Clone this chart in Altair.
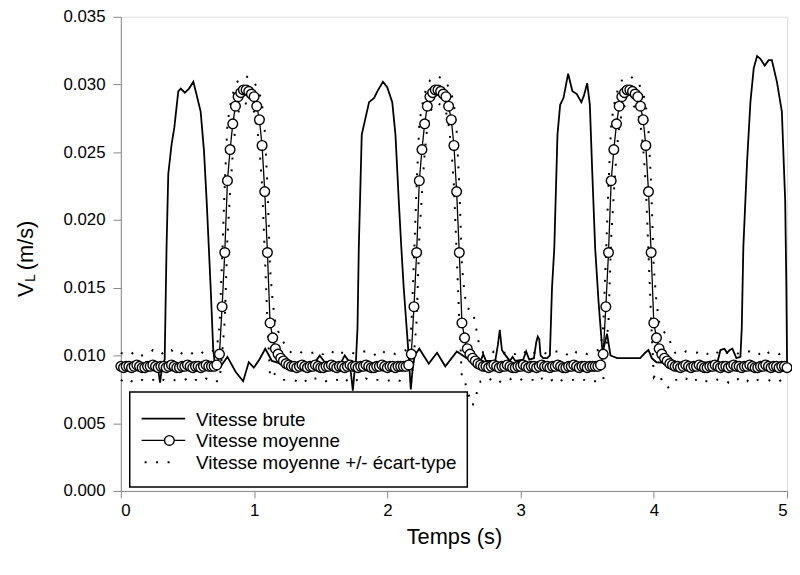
import altair as alt
import pandas as pd

# ---------------- data ----------------
# Vitesse brute (raw signal, key points)
t_brute = [
    0.000, 0.080, 0.160, 0.240, 0.275, 0.287, 0.294, 0.302, 0.315, 0.329,
    0.343, 0.356, 0.381, 0.401, 0.431, 0.450, 0.480, 0.512, 0.544, 0.562,
    0.599, 0.624, 0.644, 0.661, 0.675, 0.693, 0.705, 0.750, 0.800, 0.861,
    0.918, 0.960, 0.998, 1.040, 1.084, 1.134, 1.200, 1.300, 1.450, 1.493,
    1.530, 1.600, 1.655, 1.680, 1.710, 1.728, 1.741, 1.752, 1.765, 1.776,
    1.786, 1.808, 1.863, 1.900, 1.925, 1.967, 1.999, 2.037, 2.061, 2.086,
    2.106, 2.123, 2.160, 2.176, 2.190, 2.205, 2.240, 2.311, 2.373, 2.435,
    2.522, 2.596, 2.650, 2.700, 2.720, 2.740, 2.810, 2.830, 2.844, 2.860,
    2.880, 2.920, 2.940, 2.960, 3.020, 3.042, 3.065, 3.100, 3.118, 3.129,
    3.140, 3.150, 3.170, 3.200, 3.220, 3.236, 3.253, 3.277, 3.297, 3.322,
    3.357, 3.389, 3.422, 3.456, 3.476, 3.500, 3.520, 3.537, 3.560, 3.585,
    3.615, 3.649, 3.675, 3.724, 3.897, 3.935, 3.960, 3.985, 4.020, 4.200,
    4.400, 4.480, 4.500, 4.530, 4.550, 4.570, 4.590, 4.620, 4.650, 4.660,
    4.672, 4.700, 4.725, 4.750, 4.775, 4.800, 4.832, 4.862, 4.886, 4.924,
    4.961, 4.986, 4.995, 5.000,
]
v_brute = [
    0.0093, 0.0094, 0.0093, 0.0094, 0.0093, 0.0085, 0.0080, 0.0086, 0.0094, 0.0097,
    0.0180, 0.0234, 0.0256, 0.0268, 0.0295, 0.0297, 0.0294, 0.0297, 0.0302, 0.0295,
    0.0280, 0.0251, 0.0214, 0.0178, 0.0148, 0.0105, 0.0094, 0.0092, 0.0099, 0.0088,
    0.0081, 0.0095, 0.0091, 0.0097, 0.0105, 0.0096, 0.0094, 0.0093, 0.0094, 0.0100,
    0.0095, 0.0094, 0.0095, 0.0100, 0.0096, 0.0086, 0.0074, 0.0086, 0.0097, 0.0120,
    0.0180, 0.0263, 0.0287, 0.0290, 0.0295, 0.0302, 0.0298, 0.0287, 0.0263, 0.0214,
    0.0178, 0.0150, 0.0100, 0.0075, 0.0090, 0.0100, 0.0105, 0.0094, 0.0102, 0.0092,
    0.0103, 0.0098, 0.0095, 0.0096, 0.0101, 0.0096, 0.0096, 0.0108, 0.0119, 0.0104,
    0.0101, 0.0096, 0.0099, 0.0096, 0.0097, 0.0103, 0.0097, 0.0098, 0.0110, 0.0114,
    0.0112, 0.0100, 0.0098, 0.0098, 0.0100, 0.0150, 0.0179, 0.0263, 0.0285, 0.0290,
    0.0308, 0.0295, 0.0293, 0.0287, 0.0292, 0.0301, 0.0285, 0.0238, 0.0179, 0.0140,
    0.0102, 0.0116, 0.0100, 0.0098, 0.0098, 0.0102, 0.0104, 0.0098, 0.0095, 0.0094,
    0.0095, 0.0096, 0.0104, 0.0105, 0.0102, 0.0104, 0.0105, 0.0098, 0.0099, 0.0120,
    0.0180, 0.0243, 0.0287, 0.0312, 0.0321, 0.0319, 0.0314, 0.0318, 0.0318, 0.0302,
    0.0280, 0.0214, 0.0150, 0.0095,
]

# Vitesse moyenne (phase average), one value every 0.02 s from 0 to 5 s
pas = 0.02
moyenne = [
    # 0.00 - 0.70 s
    0.0092, 0.0091, 0.0092, 0.0092, 0.0091, 0.0092, 0.0093, 0.0092, 0.0091, 0.0091,
    0.0092, 0.0092, 0.0093, 0.0092, 0.0091, 0.0092, 0.0092, 0.0091, 0.0092, 0.0093,
    0.0092, 0.0091, 0.0091, 0.0092, 0.0092, 0.0093, 0.0092, 0.0091, 0.0092, 0.0092,
    0.0091, 0.0092, 0.0093, 0.0092, 0.0092, 0.0092,
    # pulse 1 (0.72 - 1.26 s)
    0.0093, 0.0101, 0.0136, 0.0176, 0.0229, 0.0252, 0.0271, 0.0284, 0.0291, 0.0294,
    0.0296, 0.0296, 0.0295, 0.0293, 0.0291, 0.0284, 0.0274, 0.0255, 0.0221, 0.0176,
    0.0124, 0.0113, 0.0105, 0.0101, 0.0098, 0.0096, 0.0094, 0.0093,
    # 1.28 - 2.14 s
    0.0092, 0.0092, 0.0091, 0.0092, 0.0093, 0.0092, 0.0091, 0.0092, 0.0092, 0.0093,
    0.0092, 0.0091, 0.0091, 0.0092, 0.0092, 0.0093, 0.0092, 0.0091, 0.0092, 0.0092,
    0.0091, 0.0092, 0.0093, 0.0092, 0.0092, 0.0091, 0.0092, 0.0092, 0.0093, 0.0092,
    0.0091, 0.0091, 0.0092, 0.0092, 0.0093, 0.0092, 0.0091, 0.0092, 0.0092, 0.0091,
    0.0092, 0.0092, 0.0092, 0.0092,
    # pulse 2 (2.16 - 2.70 s)
    0.0093, 0.0101, 0.0136, 0.0176, 0.0229, 0.0252, 0.0271, 0.0284, 0.0291, 0.0294,
    0.0296, 0.0296, 0.0295, 0.0293, 0.0291, 0.0284, 0.0274, 0.0255, 0.0221, 0.0176,
    0.0124, 0.0113, 0.0105, 0.0101, 0.0098, 0.0096, 0.0094, 0.0093,
    # 2.72 - 3.58 s
    0.0092, 0.0092, 0.0091, 0.0092, 0.0093, 0.0092, 0.0091, 0.0092, 0.0092, 0.0093,
    0.0092, 0.0091, 0.0091, 0.0092, 0.0092, 0.0093, 0.0092, 0.0091, 0.0092, 0.0092,
    0.0091, 0.0092, 0.0093, 0.0092, 0.0092, 0.0091, 0.0092, 0.0092, 0.0093, 0.0092,
    0.0091, 0.0091, 0.0092, 0.0092, 0.0093, 0.0092, 0.0091, 0.0092, 0.0092, 0.0091,
    0.0092, 0.0092, 0.0092, 0.0092,
    # pulse 3 (3.60 - 4.14 s)
    0.0093, 0.0101, 0.0136, 0.0176, 0.0229, 0.0252, 0.0271, 0.0284, 0.0291, 0.0294,
    0.0296, 0.0296, 0.0295, 0.0293, 0.0291, 0.0284, 0.0274, 0.0255, 0.0221, 0.0176,
    0.0124, 0.0113, 0.0105, 0.0101, 0.0098, 0.0096, 0.0094, 0.0093,
    # 4.16 - 5.00 s
    0.0092, 0.0092, 0.0091, 0.0092, 0.0093, 0.0092, 0.0091, 0.0092, 0.0092, 0.0093,
    0.0092, 0.0091, 0.0091, 0.0092, 0.0092, 0.0093, 0.0092, 0.0091, 0.0092, 0.0092,
    0.0091, 0.0092, 0.0093, 0.0092, 0.0092, 0.0091, 0.0092, 0.0092, 0.0093, 0.0092,
    0.0091, 0.0091, 0.0092, 0.0092, 0.0093, 0.0092, 0.0091, 0.0092, 0.0092, 0.0091,
    0.0092, 0.0092, 0.0091,
]
ecart_type = [
    # 0.00 - 0.70 s
    0.0010, 0.0010, 0.0009, 0.0010, 0.0010, 0.0011, 0.0010, 0.0010, 0.0009, 0.0010,
    0.0010, 0.0010, 0.0011, 0.0010, 0.0010, 0.0009, 0.0010, 0.0010, 0.0010, 0.0011,
    0.0010, 0.0010, 0.0009, 0.0010, 0.0010, 0.0010, 0.0011, 0.0010, 0.0010, 0.0010,
    0.0010, 0.0011, 0.0010, 0.0010, 0.0011, 0.0012,
    # pulse 1
    0.0012, 0.0020, 0.0035, 0.0050, 0.0042, 0.0032, 0.0022, 0.0015, 0.0012, 0.0010,
    0.0010, 0.0010, 0.0010, 0.0010, 0.0011, 0.0014, 0.0020, 0.0030, 0.0045, 0.0050,
    0.0040, 0.0026, 0.0019, 0.0017, 0.0016, 0.0014, 0.0012, 0.0011,
    # 1.28 - 2.14 s
    0.0010, 0.0010, 0.0010, 0.0009, 0.0010, 0.0010, 0.0011, 0.0010, 0.0010, 0.0010,
    0.0009, 0.0010, 0.0010, 0.0011, 0.0010, 0.0010, 0.0010, 0.0009, 0.0010, 0.0010,
    0.0011, 0.0010, 0.0010, 0.0010, 0.0009, 0.0010, 0.0010, 0.0011, 0.0010, 0.0010,
    0.0010, 0.0009, 0.0010, 0.0010, 0.0011, 0.0010, 0.0010, 0.0010, 0.0010, 0.0010,
    0.0010, 0.0011, 0.0011, 0.0012,
    # pulse 2
    0.0012, 0.0020, 0.0035, 0.0050, 0.0042, 0.0032, 0.0022, 0.0015, 0.0012, 0.0010,
    0.0010, 0.0010, 0.0010, 0.0010, 0.0011, 0.0014, 0.0020, 0.0030, 0.0045, 0.0050,
    0.0042, 0.0032, 0.0030, 0.0033, 0.0035, 0.0028, 0.0018, 0.0012,
    # 2.72 - 3.58 s
    0.0010, 0.0010, 0.0010, 0.0009, 0.0010, 0.0010, 0.0011, 0.0010, 0.0010, 0.0010,
    0.0009, 0.0010, 0.0010, 0.0011, 0.0010, 0.0010, 0.0010, 0.0009, 0.0010, 0.0010,
    0.0011, 0.0010, 0.0010, 0.0010, 0.0009, 0.0010, 0.0010, 0.0011, 0.0010, 0.0010,
    0.0010, 0.0009, 0.0010, 0.0010, 0.0011, 0.0010, 0.0010, 0.0010, 0.0010, 0.0010,
    0.0010, 0.0011, 0.0011, 0.0012,
    # pulse 3
    0.0012, 0.0020, 0.0035, 0.0050, 0.0042, 0.0032, 0.0022, 0.0015, 0.0012, 0.0010,
    0.0010, 0.0010, 0.0010, 0.0010, 0.0011, 0.0014, 0.0020, 0.0030, 0.0045, 0.0050,
    0.0040, 0.0026, 0.0020, 0.0019, 0.0019, 0.0020, 0.0017, 0.0012,
    # 4.16 - 5.00 s
    0.0010, 0.0010, 0.0010, 0.0009, 0.0010, 0.0010, 0.0011, 0.0010, 0.0010, 0.0010,
    0.0009, 0.0010, 0.0010, 0.0011, 0.0010, 0.0010, 0.0010, 0.0009, 0.0010, 0.0010,
    0.0011, 0.0010, 0.0010, 0.0010, 0.0009, 0.0010, 0.0010, 0.0011, 0.0010, 0.0010,
    0.0010, 0.0009, 0.0010, 0.0010, 0.0011, 0.0010, 0.0010, 0.0010, 0.0010, 0.0010,
    0.0010, 0.0010, 0.0010,
]

x_ticks = [0, 1, 2, 3, 4, 5]
y_ticks = [0.000, 0.005, 0.010, 0.015, 0.020, 0.025, 0.030, 0.035]
legend_labels = ["Vitesse brute", "Vitesse moyenne", "Vitesse moyenne +/- écart-type"]

# ---------------- tables ----------------
df_brute = pd.DataFrame({"t": t_brute, "v": v_brute})
temps_moy = [round(pas * k, 2) for k in range(len(moyenne))]
df_moy = pd.DataFrame({"t": temps_moy, "v": moyenne, "s": ecart_type})
df_moy["sup"] = df_moy["v"] + df_moy["s"]
df_moy["inf"] = df_moy["v"] - df_moy["s"]

FONT = "Liberation Sans"
W, H = 673, 479

xs = alt.Scale(domain=[0, 5], nice=False, zero=False)
ys = alt.Scale(domain=[0, 0.035], nice=False)

x_axis = alt.Axis(values=x_ticks, format="d", title="Temps (s)", grid=False,
                  labelFontSize=17, titleFontSize=22, tickSize=7, labelPadding=5,
                  titlePadding=8, titleFontWeight="normal")
y_axis = alt.Axis(values=y_ticks, format=".3f", title=None, grid=False,
                  labelFontSize=17, tickSize=8, labelPadding=8)

brute = alt.Chart(df_brute).mark_line(color="black", strokeWidth=1.8).encode(
    x=alt.X("t:Q", scale=xs, axis=x_axis),
    y=alt.Y("v:Q", scale=ys, axis=y_axis),
)

dots_common = dict(color="black", strokeWidth=2, strokeDash=[2, 10], strokeCap="butt")
sup = alt.Chart(df_moy).mark_line(**dots_common).encode(
    x=alt.X("t:Q", scale=xs), y=alt.Y("sup:Q", scale=ys))
inf = alt.Chart(df_moy).mark_line(**dots_common).encode(
    x=alt.X("t:Q", scale=xs), y=alt.Y("inf:Q", scale=ys))

moy_line = alt.Chart(df_moy).mark_line(color="black", strokeWidth=1.3).encode(
    x=alt.X("t:Q", scale=xs), y=alt.Y("v:Q", scale=ys))
moy_pts = alt.Chart(df_moy).mark_point(
    shape="circle", size=95, fill="white", stroke="black", strokeWidth=1.4,
    fillOpacity=1, opacity=1).encode(
    x=alt.X("t:Q", scale=xs), y=alt.Y("v:Q", scale=ys))

# ---------------- legend (drawn by hand) ----------------
one = pd.DataFrame({"k": [0]})
leg_box = alt.Chart(one).mark_rect(fill="white", stroke="black", strokeWidth=1.5).encode(
    x=alt.value(9), x2=alt.value(350), y=alt.value(379), y2=alt.value(475))
leg_l1 = alt.Chart(one).mark_rule(color="black", strokeWidth=1.8).encode(
    x=alt.value(21), x2=alt.value(65), y=alt.value(406))
leg_l2 = alt.Chart(one).mark_rule(color="black", strokeWidth=1.3).encode(
    x=alt.value(21), x2=alt.value(65), y=alt.value(428))
leg_c2 = alt.Chart(one).mark_point(shape="circle", size=95, fill="white", stroke="black",
                                   strokeWidth=1.4, fillOpacity=1, opacity=1).encode(
    x=alt.value(49), y=alt.value(428))
leg_l3 = alt.Chart(one).mark_rule(color="black", strokeWidth=2, strokeDash=[2, 9.6]).encode(
    x=alt.value(24), x2=alt.value(52), y=alt.value(450))
leg_txt = []
for i, lab in enumerate(legend_labels):
    leg_txt.append(alt.Chart(one).mark_text(
        text=lab, font=FONT, fontSize=19, align="left", baseline="middle", color="black"
    ).encode(x=alt.value(76), y=alt.value(407 + 22 * i)))

# ---------------- y title V_L (m/s) ----------------
yt_v = alt.Chart(one).mark_text(text="V", font=FONT, fontSize=22, angle=270,
                                align="left", baseline="alphabetic", color="black").encode(
    x=alt.value(-89), y=alt.value(283))
yt_l = alt.Chart(one).mark_text(text="L", font=FONT, fontSize=14, angle=270,
                                align="left", baseline="alphabetic", color="black").encode(
    x=alt.value(-86.5), y=alt.value(268))
yt_u = alt.Chart(one).mark_text(text="(m/s)", font=FONT, fontSize=22, angle=270,
                                align="left", baseline="alphabetic", color="black").encode(
    x=alt.value(-89), y=alt.value(256))

chart = alt.layer(
    brute, sup, inf, moy_line, moy_pts,
    leg_box, leg_l1, leg_l2, leg_c2, leg_l3, *leg_txt,
    yt_v, yt_l, yt_u,
).properties(
    width=W, height=H,
    autosize=alt.AutoSizeParams(type="none"),
    padding={"left": 114, "top": 6, "right": 5, "bottom": 80},
).configure_view(
    stroke="black", strokeWidth=1.5
).configure_axis(
    domainColor="black", domainWidth=1.5, tickColor="black", tickWidth=1.5,
    labelColor="black", titleColor="black", labelFont=FONT, titleFont=FONT,
).configure(background="white")

chart.save("out.html", embed_options={"renderer": "svg", "actions": False})
